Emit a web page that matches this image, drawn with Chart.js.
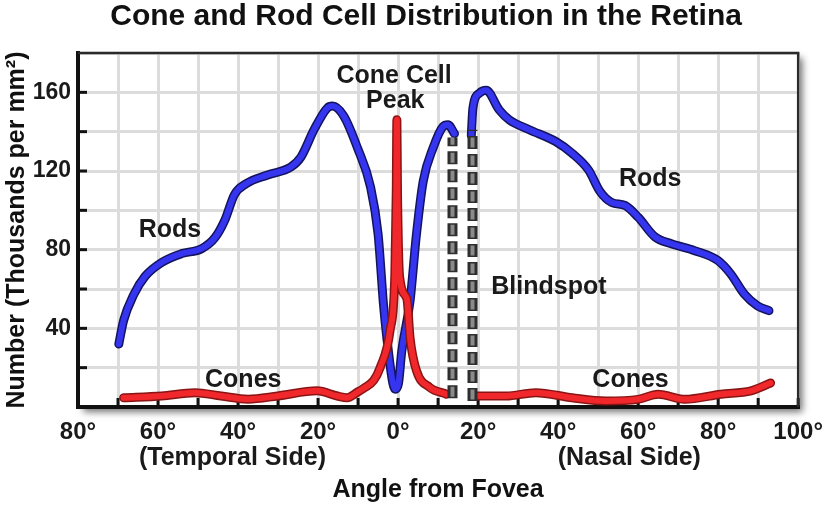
<!DOCTYPE html>
<html>
<head>
<meta charset="utf-8">
<title>Cone and Rod Cell Distribution in the Retina</title>
<script src="https://cdn.jsdelivr.net/npm/chart.js@4.4.1/dist/chart.umd.min.js"></script>
<style>
  html, body { margin: 0; padding: 0; background: #fff; }
  #wrap { width: 834px; height: 514px; }
</style>
</head>
<body>
<div id="wrap"><canvas id="retinaChart" width="834" height="514"></canvas></div>
<script>
// angle from fovea in degrees (temporal side < 0), density in thousands per mm²
const rodTemporalAngles = [-69.8, -68.6, -66.1, -63.2, -59.1, -54.1, -49.1, -45.8, -43.3, -40.9, -38.0, -32.6, -26.8, -24.3, -21.0, -17.7, -16.4, -13.6, -10.2, -6.9, -5.0, -3.6, -2.4, -1.4, -0.7, 0.1, 0.9, 3.0, 4.6, 6.3, 8.8, 11.2, 12.5, 14.1];
const rodTemporalValues = [32, 44, 57, 66.5, 73.5, 78, 80.5, 86, 95, 108, 113.5, 118, 122, 127, 141, 152, 153, 148, 132, 112, 88, 51, 28, 13, 9, 12, 28, 54, 88, 115, 132, 142.5, 143.5, 139];

const rodNasalAngles = [18.3, 18.7, 20.3, 22.0, 25.3, 27.8, 32.8, 39.4, 43.5, 47.6, 50.5, 53.4, 56.7, 60.0, 64.2, 68.3, 74.1, 79.9, 83.2, 86.5, 89.8, 92.7];
const rodNasalValues = [138, 152, 159.5, 161, 151, 146, 141, 135, 129, 120.5, 109.5, 104, 102.5, 96.5, 86.5, 83, 79.5, 74.5, 67.5, 57.5, 51.5, 49];

const coneTemporalAngles = [-68.6, -59.1, -50.8, -44.2, -37.5, -30.1, -20.2, -15.2, -12.7, -10.2, -8.6, -6.1, -4.5, -2.0, -0.8, -0.45, -0.3, -0.15, 0.4, 2.2, 3.0, 4.6, 7.9, 12.1];
const coneTemporalValues = [4.7, 5.6, 7.3, 5.6, 4.0, 5.6, 8.2, 5.6, 4.7, 7.5, 9.5, 13.5, 20, 39, 68, 110, 146, 110, 66, 55, 35, 18.5, 10, 6.5];

const coneNasalAngles = [19.5, 27.0, 34.4, 43.5, 51.8, 60.0, 65.0, 71.6, 80.7, 88.2, 93.1];
const coneNasalValues = [5.6, 5.6, 7.3, 4.7, 3.1, 3.9, 6.5, 3.9, 6.5, 8.2, 12.2];

// the two dashed edges of the blind spot
const blindspotAngles = [13.6, 18.6];
const blindspotBottoms = [4.5, 3];
const blindspotTops = [137, 141];

const xTickValues = [-80, -60, -40, -20, 0, 20, 40, 60, 80, 100];
const xTickLabels = ['80°', '60°', '40°', '20°', '0°', '20°', '40°', '60°', '80°', '100°'];
const yTickValues = [40, 80, 120, 160];
const yTickLabels = ['40', '80', '120', '160'];

// text placed on the plot, in data units
const noteTexts = ['Cone Cell', 'Peak', 'Rods', 'Rods', 'Blindspot', 'Cones', 'Cones'];
const noteAngles = [-1.0, -0.7, -57, 63, 37.7, -38.7, 58.1];
const noteValues = [168, 155.5, 89.8, 115.8, 61.2, 13.8, 13.8];

const sideTexts = ['(Temporal Side)', '(Nasal Side)'];
const sideAngles = [-41.4, 57.8];

const chartTitle = 'Cone and Rod Cell Distribution in the Retina';

const FONT = '"Liberation Sans", Arial, Helvetica, sans-serif';
Chart.defaults.font.family = FONT;
Chart.defaults.color = '#1a1a1a';

function pts(xs, ys) {
  return xs.map((x, i) => ({ x: x, y: ys[i] }));
}

function curve(xs, ys, color, width, order) {
  return {
    data: pts(xs, ys),
    borderColor: color,
    borderWidth: width,
    pointRadius: 0,
    fill: false,
    cubicInterpolationMode: 'monotone',
    borderCapStyle: 'round',
    borderJoinStyle: 'round',
    order: order
  };
}

function edge(i, color, width, dash, dashOffset, order) {
  return {
    data: [{ x: blindspotAngles[i], y: blindspotBottoms[i] }, { x: blindspotAngles[i], y: blindspotTops[i] }],
    borderColor: color,
    borderWidth: width,
    borderDash: dash,
    borderDashOffset: dashOffset,
    pointRadius: 0,
    fill: false,
    order: order
  };
}

const datasets = [
  // rods: dark outline under a blue core
  curve(rodTemporalAngles, rodTemporalValues, '#14145e', 9, 6),
  curve(rodNasalAngles, rodNasalValues, '#14145e', 9, 6),
  curve(rodTemporalAngles, rodTemporalValues, '#3535f0', 6, 5),
  curve(rodNasalAngles, rodNasalValues, '#3535f0', 6, 5),
  // cones
  curve(coneTemporalAngles, coneTemporalValues, '#8a1414', 9, 4),
  curve(coneNasalAngles, coneNasalValues, '#8a1414', 9, 4),
  curve(coneTemporalAngles, coneTemporalValues, '#f0282c', 6, 3),
  curve(coneNasalAngles, coneNasalValues, '#f0282c', 6, 3),
  // blind spot edges
  edge(0, '#2e2e2e', 10, [13, 5], 0, 2),
  edge(1, '#2e2e2e', 10, [13, 5], 0, 2),
  edge(0, '#8a8a8a', 4, [10, 8], -1.5, 1),
  edge(1, '#8a8a8a', 4, [10, 8], -1.5, 1)
];

// shadowed frame, inward tick marks, title and the labels drawn on the plot
const framePlugin = {
  id: 'retinaFrame',
  beforeDraw(chart) {
    const a = chart.chartArea;
    const ctx = chart.ctx;
    ctx.save();
    ctx.shadowColor = 'rgba(0,0,0,0.55)';
    ctx.shadowBlur = 7;
    ctx.shadowOffsetX = 5;
    ctx.shadowOffsetY = 5;
    ctx.fillStyle = '#fff';
    ctx.fillRect(a.left, a.top, a.right - a.left, a.bottom - a.top);
    ctx.restore();
  },
  beforeDatasetsDraw(chart) {
    const a = chart.chartArea;
    const ctx = chart.ctx;
    const xs = chart.scales.x;
    const ys = chart.scales.y;
    ctx.save();
    ctx.strokeStyle = '#111';
    ctx.lineWidth = 3;
    xs.ticks.forEach(t => {
      const px = xs.getPixelForValue(t.value);
      ctx.beginPath();
      ctx.moveTo(px, a.bottom);
      ctx.lineTo(px, a.bottom - 9);
      ctx.stroke();
    });
    ys.ticks.forEach(t => {
      if (t.value <= 0 || t.value >= 180) return;
      const py = ys.getPixelForValue(t.value);
      ctx.beginPath();
      ctx.moveTo(a.left, py);
      ctx.lineTo(a.left + 9, py);
      ctx.stroke();
    });
    ctx.restore();
  },
  afterDraw(chart) {
    const a = chart.chartArea;
    const ctx = chart.ctx;
    const xs = chart.scales.x;
    const ys = chart.scales.y;
    ctx.save();
    ctx.strokeStyle = '#2a2a2a';
    ctx.lineWidth = 2.5;
    ctx.beginPath();
    ctx.moveTo(a.left, a.top);
    ctx.lineTo(a.right, a.top);
    ctx.lineTo(a.right, a.bottom);
    ctx.stroke();

    ctx.fillStyle = '#111';
    ctx.textAlign = 'center';
    ctx.textBaseline = 'middle';
    ctx.font = 'bold 30px ' + FONT;
    ctx.fillText(chartTitle, xs.getPixelForValue(7), 17);

    ctx.font = 'bold 25px ' + FONT;
    ctx.fillStyle = '#1a1a1a';
    noteTexts.forEach((txt, i) => {
      ctx.fillText(txt, xs.getPixelForValue(noteAngles[i]), ys.getPixelForValue(noteValues[i]));
    });
    sideTexts.forEach((txt, i) => {
      ctx.fillText(txt, xs.getPixelForValue(sideAngles[i]), a.bottom + 51);
    });
    ctx.restore();
  }
};

const config = {
  type: 'line',
  data: { datasets: datasets },
  options: {
    responsive: false,
    animation: false,
    layout: { padding: { left: 0, right: 33, top: 53, bottom: 0 } },
    plugins: {
      legend: { display: false },
      tooltip: { enabled: false },
      title: { display: false }
    },
    scales: {
      x: {
        type: 'linear',
        min: -80,
        max: 100,
        afterFit(scale) { scale.height = 107; },
        grid: { color: '#dcdcdc', lineWidth: 3, drawTicks: false },
        border: { color: '#111', width: 4 },
        ticks: {
          stepSize: 10,
          autoSkip: false,
          maxRotation: 0,
          padding: 11,
          color: '#1a1a1a',
          font: { size: 24, weight: 'bold' },
          callback(value) {
            const i = xTickValues.indexOf(value);
            return i >= 0 ? xTickLabels[i] : '';
          }
        },
        title: {
          display: true,
          text: 'Angle from Fovea',
          color: '#111',
          font: { size: 25, weight: 'bold' },
          padding: { top: 0, bottom: 9 }
        }
      },
      y: {
        min: 0,
        max: 180,
        afterFit(scale) { scale.width = 78; },
        grid: { color: '#dcdcdc', lineWidth: 3, drawTicks: false },
        border: { color: '#111', width: 4 },
        ticks: {
          stepSize: 20,
          autoSkip: false,
          padding: 7,
          color: '#1a1a1a',
          font: { size: 23, weight: 'bold' },
          callback(value) {
            const i = yTickValues.indexOf(value);
            return i >= 0 ? yTickLabels[i] : '';
          }
        },
        title: {
          display: true,
          text: 'Number (Thousands per mm²)',
          color: '#111',
          font: { size: 25, weight: 'bold' },
          padding: { top: 2, bottom: 0 }
        }
      }
    }
  },
  plugins: [framePlugin]
};

new Chart(document.getElementById('retinaChart'), config);
</script>
</body>
</html>
